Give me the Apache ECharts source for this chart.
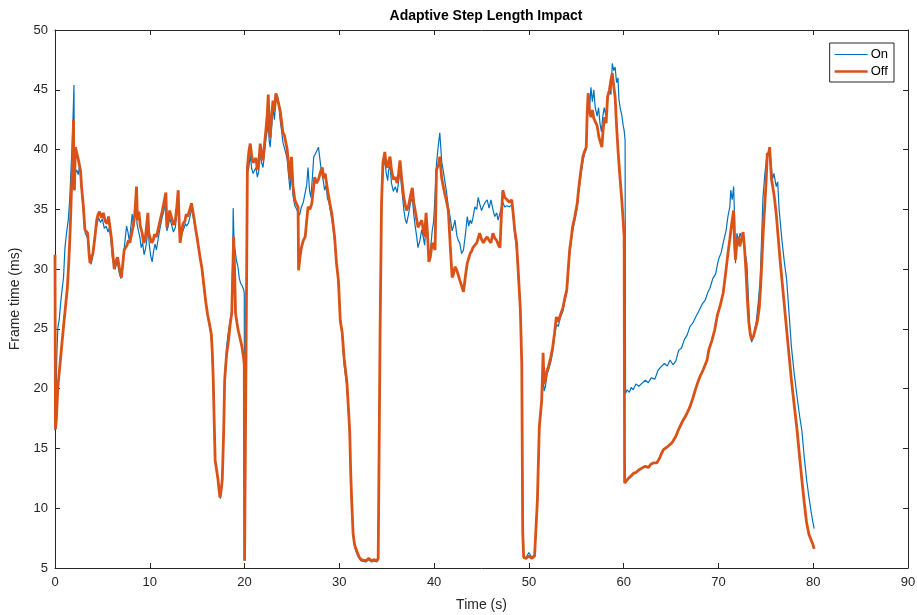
<!DOCTYPE html>
<html>
<head>
<meta charset="utf-8">
<script src="https://cdn.jsdelivr.net/npm/echarts@6/dist/echarts.min.js"></script>
<style>
  html, body { margin: 0; padding: 0; background: #fff; }
  #chart { width: 917px; height: 615px; }
</style>
</head>
<body>
<div id="chart"></div>
<script>
const xTicks = [0, 10, 20, 30, 40, 50, 60, 70, 80, 90]
const yTicks = [5, 10, 15, 20, 25, 30, 35, 40, 45, 50]
const seriesNames = ['On', 'Off']

// [time (s), frame time (ms)]
const onData = [
  [0,16.5],[0.1,19.0],[0.2,23.0],[0.3,25.1],[0.45,25.8],[0.6,27.2],[0.75,28.3],[0.9,29.3],[1.05,31.8],[1.2,32.9],[1.4,34.1],[1.55,35.8],[1.7,38.5],[1.8,40.2],[1.9,42.6],[2.0,45.4],[2.05,36.6],[2.15,38.0],[2.3,38.3],[2.45,37.9],[2.6,38.7],[2.75,37.2],[2.9,35.6],[3.05,34.2],[3.2,33.0],[3.35,33.1],[3.5,32.5],[3.65,30.9],[3.8,30.4],[3.95,30.9],
  [4.1,31.8],[4.3,33.2],[4.45,33.8],[4.6,34.3],[4.8,33.9],[5.0,34.2],[5.2,33.4],[5.4,33.6],[5.6,33.1],[5.75,33.5],[5.9,32.4],[6.05,31.0],[6.2,30.4],[6.35,30.0],[6.55,30.7],[6.75,29.8],[6.95,29.2],[7.1,30.2],[7.25,31.3],[7.4,32.5],[7.55,33.6],[7.7,33.1],[7.85,32.3],[8.0,33.5],[8.15,34.6],[8.3,33.5],[8.45,35.0],[8.55,36.7],[8.65,33.8],[8.8,33.2],[8.95,32.7],
  [9.1,31.8],[9.25,32.2],[9.4,31.2],[9.55,31.7],[9.7,32.5],[9.8,33.8],[9.95,32.0],[10.1,31.1],[10.25,30.6],[10.4,31.5],[10.55,32.1],[10.7,31.6],[10.9,32.6],[11.1,33.5],[11.3,34.3],[11.5,34.9],[11.65,35.6],[11.8,33.2],[11.95,33.6],[12.1,34.3],[12.3,34.4],[12.5,33.1],[12.7,33.5],[12.85,34.6],[13.0,35.3],[13.15,33.5],[13.3,32.7],[13.45,33.1],[13.6,33.4],[13.75,33.8],[13.9,33.6],
  [14.1,33.9],[14.3,34.6],[14.45,35.1],[14.6,34.3],[14.75,33.6],[14.9,32.9],[15.05,32.3],[15.2,31.5],[15.4,30.6],[15.6,29.2],[15.8,27.8],[16.0,26.6],[16.2,25.7],[16.4,24.8],[16.55,23.7],[16.65,21.5],[16.75,18.5],[16.85,15.0],[16.95,13.8],[17.1,13.0],[17.25,12.0],[17.35,11.2],[17.45,10.8],[17.55,11.6],[17.7,13.5],[17.8,17.0],[17.9,21.0],
  [18.1,23.5],[18.3,24.8],[18.5,25.8],[18.65,26.6],[18.75,31.0],[18.8,35.1],[18.9,32.0],[19.0,31.6],[19.15,30.7],[19.3,30.2],[19.45,29.2],[19.6,28.8],[19.75,28.6],[19.9,28.3],[19.97,28.0],[20.0,5.6],[20.05,5.5],[20.15,22],[20.3,38.0],[20.45,38.5],[20.6,39.6],[20.75,38.4],[20.9,38.0],[21.05,37.9],[21.2,38.5],[21.35,37.7],[21.5,38.2],[21.65,39.8],[21.8,38.9],[21.95,38.5],
  [22.1,39.7],[22.25,40.9],[22.4,41.6],[22.5,42.4],[22.6,40.7],[22.7,40.2],[22.85,41.8],[23.0,43.5],[23.15,42.5],[23.3,44.1],[23.45,44.6],[23.6,43.9],[23.75,42.5],[23.9,41.6],[24.05,40.6],[24.2,40.5],[24.35,39.7],[24.5,39.2],[24.65,37.8],[24.8,36.6],[24.95,38.5],[25.1,36.2],[25.3,35.3],[25.5,35.0],[25.65,34.7],[25.8,34.5],[26.0,35.2],[26.2,35.6],[26.4,36.4],[26.55,37.0],[26.7,38.5],[26.85,36.6],
  [27.0,36.0],[27.15,37.6],[27.3,39.4],[27.45,39.6],[27.6,39.7],[27.8,40.2],[27.95,39.2],[28.1,38.2],[28.3,37.4],[28.45,36.6],[28.6,37.0],[28.75,35.9],[28.9,35.6],[29.05,34.9],[29.2,34.2],[29.35,33.4],[29.5,32.4],[29.7,30.4],[29.9,28.9],[30.1,25.9],[30.3,24.5],[30.5,22.0],[30.8,20.2],[31.0,17.5],[31.1,16.0],[31.2,12.8],[31.3,10.5],[31.45,7.8],[31.6,6.9],[31.75,6.4],[31.9,6.1],
  [32.1,5.8],[32.3,5.6],[32.5,5.6],[32.8,5.5],[33.1,5.7],[33.4,5.5],[33.7,5.6],[33.95,5.5],[34.1,5.7],[34.2,15],[34.3,24.7],[34.45,35.0],[34.6,38.3],[34.8,39.2],[34.95,38.0],[35.1,37.4],[35.2,38.3],[35.35,38.6],[35.5,37.2],[35.7,36.5],[35.9,36.9],[36.1,36.4],[36.25,37.3],[36.4,38.3],[36.6,36.6],[36.8,35.0],[36.95,34.2],[37.1,33.8],[37.3,34.6],[37.5,35.5],[37.7,36.0],[37.85,34.6],
  [38.0,33.6],[38.15,32.8],[38.3,31.8],[38.5,32.4],[38.7,33.3],[38.85,32.7],[39.0,32.0],[39.15,33.8],[39.3,32.5],[39.45,31.0],[39.6,31.5],[39.8,33.2],[39.95,34.0],[40.1,36.2],[40.25,38.8],[40.45,40.4],[40.6,41.4],[40.8,39.0],[40.95,38.3],[41.1,38.4],[41.3,36.5],[41.5,35.2],[41.7,34.3],[41.9,33.2],[42.05,33.6],[42.2,34.1],[42.4,32.8],[42.55,32.4],[42.7,32.2],[42.9,31.3],
  [43.1,31.6],[43.3,32.9],[43.5,34.4],[43.65,33.6],[43.8,34.1],[43.95,33.8],[44.1,34.3],[44.3,35.2],[44.5,35.0],[44.65,36.0],[44.8,35.5],[45.0,34.9],[45.2,35.3],[45.4,35.6],[45.6,35.8],[45.8,35.1],[46.0,35.8],[46.2,35.0],[46.4,34.4],[46.6,34.7],[46.75,34.1],[46.95,34.7],[47.1,34.6],[47.25,35.6],[47.45,35.2],[47.7,35.3],[47.95,35.2],[48.2,35.4],[48.35,34.4],[48.5,33.0],[48.7,31.6],[48.9,29.2],
  [49.1,26.4],[49.25,22],[49.35,8],[49.45,5.8],[49.7,5.9],[50.0,6.3],[50.3,5.9],[50.6,6.1],[50.8,6.0],[50.9,10.5],[51.1,16.6],[51.35,18.8],[51.45,20.4],[51.5,21.2],[51.6,19.8],[51.75,20.2],[51.9,21.2],[52.05,21.5],[52.3,22.2],[52.5,23.0],[52.7,24.3],[52.9,25.4],[53.1,25.2],[53.3,25.9],[53.6,26.5],[53.8,27.4],[54.0,28.0],[54.15,29.6],[54.3,31.2],[54.5,32.5],[54.6,33.1],[54.85,34.1],
  [55.1,35.1],[55.25,36.4],[55.4,37.3],[55.55,38.2],[55.7,39.0],[55.85,39.6],[56.05,40.0],[56.15,42.4],[56.3,44.7],[56.4,43.4],[56.55,45.2],[56.7,44.0],[56.85,45.0],[57.0,43.5],[57.2,42.8],[57.35,43.5],[57.5,42.2],[57.65,41.5],[57.8,42.8],[57.95,43.5],[58.1,42.9],[58.3,44.0],[58.5,45.0],[58.65,44.6],[58.8,47.2],[58.95,46.6],[59.1,46.9],[59.25,45.6],[59.4,46.0],[59.5,44.2],[59.65,43.4],[59.8,42.9],[59.95,42.0],[60.05,41.6],[60.15,40.8],
  [60.2,19.6],[60.35,19.9],[60.6,19.7],[60.8,20.1],[61.0,19.9],[61.3,20.4],[61.6,20.2],[62.0,20.5],[62.3,20.7],[62.6,20.5],[62.9,20.9],[63.3,20.8],[63.6,21.5],[63.9,21.8],[64.3,22.1],[64.6,21.9],[64.9,22.4],[65.2,22.0],[65.5,22.3],[65.8,23.2],[66.1,23.4],[66.4,24.1],[66.7,24.5],[67.0,25.2],[67.3,25.5],[67.6,26.0],[68.0,26.6],[68.3,27.1],[68.6,27.4],[68.9,28.1],[69.1,28.4],[69.4,29.2],[69.7,29.6],
  [70.0,30.8],[70.3,31.4],[70.5,32.2],[70.8,33.2],[71.0,34.4],[71.2,35.2],[71.3,36.6],[71.45,35.8],[71.6,36.9],[71.7,34.4],[71.8,30.5],[71.95,33.0],[72.1,32.4],[72.3,33.0],[72.45,32.6],[72.6,32.4],[72.8,31.4],[73.0,30.5],[73.15,27.8],[73.3,24.9],[73.5,23.9],[73.7,24.3],[74.0,25.7],[74.2,27.2],[74.4,29.1],[74.55,32.5],[74.7,36.0],[74.9,38.0],[75.1,39.4],[75.4,40.2],
  [75.55,38.8],[75.7,37.5],[75.85,38.0],[76.1,36.9],[76.25,37.3],[76.4,35.0],[76.7,32.4],[76.95,30.6],[77.2,29.1],[77.45,26.3],[77.7,23.5],[78.0,21.2],[78.3,19.3],[78.55,17.8],[78.8,16.5],[79.05,14.3],[79.3,12.4],[79.55,10.9],[79.8,9.6],[79.95,8.9],[80.1,8.3]
]

const offData = [
  [0,31.2],[0.05,16.6],[0.15,17.5],[0.3,20.1],[0.5,21.8],[0.7,23.5],[0.9,25.2],[1.1,26.8],[1.3,28.4],[1.45,30.5],[1.6,33.2],[1.75,36.9],[1.85,38.5],[1.95,42.5],[2.0,37.2],[2.05,36.6],[2.15,40.2],[2.3,39.7],[2.45,39.2],[2.6,39.1],[2.7,38.2],[2.8,36.9],[3.0,35.2],[3.15,33.3],[3.3,33.4],[3.45,33.0],[3.6,31.2],[3.7,30.5],[3.85,31.0],
  [4.0,31.3],[4.2,32.6],[4.4,34.1],[4.55,34.6],[4.7,34.8],[4.9,34.3],[5.1,34.7],[5.3,34.0],[5.5,33.8],[5.65,34.4],[5.8,33.5],[5.95,32.6],[6.1,31.3],[6.25,30.0],[6.4,30.6],[6.6,31.0],[6.8,30.1],[7.0,29.3],[7.15,30.4],[7.3,31.6],[7.45,31.8],[7.6,32.0],[7.75,32.4],[7.9,32.2],[8.1,33.0],[8.25,33.6],[8.4,34.4],[8.5,35.6],[8.6,36.9],[8.7,34.1],[8.85,34.8],
  [9.0,33.6],[9.2,33.0],[9.35,32.2],[9.5,32.4],[9.65,33.5],[9.8,34.7],[9.9,33.0],[10.05,32.6],[10.2,32.2],[10.35,32.4],[10.5,32.9],[10.7,32.7],[10.9,33.4],[11.1,34.1],[11.3,34.8],[11.5,35.6],[11.7,36.4],[11.8,33.5],[11.95,34.2],[12.1,34.9],[12.3,34.9],[12.5,33.7],[12.7,34.1],[12.85,35.2],[13.0,36.6],[13.1,34.0],[13.2,32.2],[13.35,33.0],[13.5,33.8],[13.7,34.0],[13.85,34.6],
  [14.0,34.4],[14.2,34.9],[14.4,35.5],[14.55,34.8],[14.7,34.1],[14.85,33.3],[15.0,32.6],[15.15,31.8],[15.3,31.0],[15.5,30.1],[15.7,28.7],[15.9,27.3],[16.1,26.2],[16.3,25.4],[16.5,24.5],[16.6,23.0],[16.7,20.7],[16.8,17.2],[16.9,14.0],[17.05,13.2],[17.2,12.4],[17.3,11.6],[17.4,10.9],[17.5,11.3],[17.65,12.4],[17.8,16.5],[17.9,20.7],
  [18.1,22.8],[18.3,24.0],[18.5,25.5],[18.65,26.3],[18.75,29.5],[18.85,32.7],[18.95,30.0],[19.05,26.3],[19.2,25.5],[19.35,24.8],[19.5,24.3],[19.7,23.6],[19.9,22.6],[19.97,22.0],[20.0,5.6],[20.05,5.5],[20.15,22],[20.3,38.5],[20.45,39.8],[20.6,40.5],[20.75,39.5],[20.9,38.9],[21.05,38.9],[21.2,39.3],[21.35,38.3],[21.5,38.8],[21.65,40.5],[21.8,39.6],[21.95,39.1],
  [22.1,40.4],[22.25,41.6],[22.4,43.0],[22.5,44.6],[22.6,42.0],[22.7,41.0],[22.85,42.8],[23.0,44.1],[23.15,43.2],[23.3,44.7],[23.45,44.3],[23.6,43.8],[23.75,43.3],[23.9,42.4],[24.05,41.4],[24.2,41.2],[24.35,40.6],[24.5,40.0],[24.65,38.7],[24.8,37.5],[24.95,39.4],[25.1,37.0],[25.3,35.8],[25.5,35.4],[25.65,35.2],[25.7,29.9],[25.85,31.0],
  [26.0,31.8],[26.2,32.4],[26.4,32.7],[26.55,34.0],[26.7,35.2],[26.9,35.0],[27.1,35.5],[27.25,36.6],[27.4,37.7],[27.6,37.2],[27.8,37.5],[28.0,38.1],[28.2,38.5],[28.35,37.6],[28.5,38.0],[28.65,37.2],[28.8,36.4],[29.0,35.5],[29.2,34.7],[29.35,33.7],[29.5,32.7],[29.7,30.5],[29.9,29.1],[30.1,25.7],[30.3,24.7],[30.5,22.6],[30.8,20.5],[31.0,17.8],
  [31.1,16.3],[31.2,13.0],[31.3,10.7],[31.45,7.9],[31.6,7.0],[31.75,6.6],[31.9,6.3],[32.1,5.9],[32.3,5.7],[32.5,5.7],[32.8,5.6],[33.1,5.8],[33.4,5.6],[33.7,5.7],[33.95,5.6],[34.1,5.8],[34.2,15],[34.3,24.7],[34.45,35.5],[34.6,38.9],[34.8,39.8],[34.95,38.7],[35.1,38.5],[35.2,39.0],[35.35,39.4],[35.5,38.3],[35.7,37.5],[35.9,37.7],
  [36.1,37.2],[36.25,38.0],[36.4,39.1],[36.6,37.4],[36.8,36.0],[36.95,35.4],[37.1,34.9],[37.3,35.3],[37.5,36.1],[37.7,36.8],[37.85,35.6],[38.0,34.9],[38.15,34.2],[38.3,33.5],[38.5,33.8],[38.7,34.1],[38.85,33.3],[39.0,32.7],[39.15,34.7],[39.3,33.0],[39.45,30.6],[39.6,31.0],[39.8,32.2],[39.95,31.9],[40.1,31.6],
  [40.25,38.3],[40.45,38.7],[40.6,39.4],[40.8,37.6],[40.95,37.0],[41.1,36.4],[41.3,35.7],[41.5,34.9],[41.7,32.0],[41.9,29.3],[42.05,29.6],[42.2,30.2],[42.4,29.9],[42.55,29.5],[42.7,29.1],[42.9,28.6],[43.1,28.1],[43.3,29.4],[43.5,30.5],[43.65,30.9],[43.8,31.3],[43.95,31.5],[44.1,31.8],[44.3,32.0],[44.5,32.2],[44.65,32.6],[44.8,33.0],
  [45.0,32.5],[45.2,32.2],[45.4,32.5],[45.6,32.7],[45.8,32.4],[46.0,32.2],[46.2,33.0],[46.4,32.6],[46.6,32.4],[46.8,32.0],[46.95,31.8],[47.1,34.5],[47.25,36.6],[47.45,36.0],[47.7,35.8],[47.95,35.6],[48.2,35.8],[48.35,34.6],[48.5,33.3],[48.7,32.2],[48.9,29.5],[49.1,26.6],[49.25,22],[49.35,8],[49.45,5.9],[49.7,5.8],
  [50.0,6.0],[50.3,5.8],[50.6,6.0],[50.8,6.1],[50.9,10.7],[51.1,16.8],[51.35,19.0],[51.45,21.5],[51.5,23.0],[51.6,20.4],[51.75,20.7],[51.9,21.5],[52.05,21.8],[52.3,22.6],[52.5,23.4],[52.7,24.6],[52.9,26.0],[53.1,25.6],[53.3,26.1],[53.6,26.8],[53.8,27.6],[54.0,28.3],[54.15,30.0],[54.3,31.6],[54.5,32.8],[54.6,33.5],[54.85,34.4],
  [55.1,35.5],[55.25,36.7],[55.4,37.7],[55.55,38.6],[55.7,39.4],[55.85,39.8],[56.05,40.2],[56.15,43.0],[56.25,44.7],[56.4,43.2],[56.55,42.7],[56.7,43.3],[56.85,42.6],[57.0,42.5],[57.2,42.0],[57.4,41.0],[57.55,40.6],[57.7,40.2],[57.85,41.8],[58.0,42.7],[58.15,42.2],[58.3,44.4],[58.5,45.0],[58.65,45.8],[58.8,46.4],[58.95,45.3],
  [59.1,44.4],[59.25,42.0],[59.4,40.0],[59.6,37.8],[59.8,35.8],[59.95,34.0],[60.05,32.7],[60.1,12.1],[60.3,12.2],[60.5,12.5],[60.8,12.7],[61.0,12.9],[61.3,13.0],[61.6,13.2],[62.0,13.4],[62.3,13.5],[62.6,13.4],[62.9,13.7],[63.2,13.8],[63.5,13.8],[63.8,14.2],[64.0,14.6],[64.2,14.9],[64.4,15.0],[64.7,15.2],[65.0,15.4],
  [65.2,15.6],[65.5,16.0],[65.8,16.6],[66.1,17.1],[66.3,17.4],[66.6,17.8],[67.0,18.5],[67.3,19.2],[67.6,20.0],[67.9,20.7],[68.1,21.1],[68.4,21.6],[68.8,22.4],[69.0,23.3],[69.3,24.0],[69.6,24.9],[69.9,26.2],[70.2,27.0],[70.5,28.0],[70.75,29.6],[71.0,31.3],[71.2,32.5],[71.4,33.8],[71.6,34.9],[71.7,32.0],[71.8,30.8],[71.95,32.3],
  [72.1,32.7],[72.25,31.9],[72.4,31.8],[72.6,33.1],[72.75,31.8],[72.9,29.9],[73.05,27.5],[73.2,25.6],[73.35,24.6],[73.5,24.1],[73.7,24.4],[73.9,25.0],[74.1,25.6],[74.3,26.7],[74.45,28.5],[74.6,31.0],[74.75,33.5],[74.9,35.5],[75.05,37.6],[75.15,39.7],[75.3,39.5],[75.4,40.2],[75.5,38.8],[75.6,37.5],[75.75,36.8],[75.9,36.0],
  [76.1,34.6],[76.3,32.7],[76.5,30.8],[76.7,29.1],[76.95,27.0],[77.2,24.9],[77.45,22.8],[77.7,20.7],[78.0,18.6],[78.3,16.5],[78.55,14.4],[78.8,12.4],[79.05,10.5],[79.3,8.8],[79.55,7.8],[79.8,7.3],[79.95,7.0],[80.1,6.6]
]

const chart = echarts.init(document.getElementById('chart'), null, { renderer: 'canvas' })

const font = 'Liberation Sans, Arial, Helvetica, sans-serif'
const axisColor = '#262626'
const onColor = '#0072BD'
const offColor = '#D95319'

const baseX = {
  type: 'value',
  min: xTicks[0],
  max: xTicks[xTicks.length - 1],
  interval: 10,
  splitLine: { show: false },
  axisLine: { show: true, onZero: false, lineStyle: { color: axisColor, width: 1 } },
  axisTick: { show: true, inside: true, length: 5, lineStyle: { color: axisColor } }
}
const baseY = {
  type: 'value',
  min: yTicks[0],
  max: yTicks[yTicks.length - 1],
  interval: 5,
  splitLine: { show: false },
  axisLine: { show: true, onZero: false, lineStyle: { color: axisColor, width: 1 } },
  axisTick: { show: true, inside: true, length: 5, lineStyle: { color: axisColor } }
}

const option = {
  backgroundColor: '#ffffff',
  animation: false,
  title: {
    text: 'Adaptive Step Length Impact',
    left: 481,
    top: 4,
    textAlign: 'center',
    textStyle: { fontFamily: font, fontSize: 14, fontWeight: 'bold', color: '#000' }
  },
  grid: { left: 55, right: 9, top: 30, bottom: 47, containLabel: false, outerBoundsMode: 'none' },
  legend: {
    data: [
      { name: seriesNames[0], icon: 'path://M0,0H40V1.3H0Z', itemStyle: { color: onColor } },
      { name: seriesNames[1], icon: 'path://M0,0H40V3.2H0Z', itemStyle: { color: offColor } }
    ],
    orient: 'vertical',
    right: 23,
    top: 43,
    padding: [5, 6, 4, 5],
    itemGap: 4,
    itemWidth: 33,
    itemHeight: 14,
    backgroundColor: '#fff',
    borderColor: axisColor,
    borderWidth: 1,
    borderRadius: 0,
    textStyle: { fontFamily: font, fontSize: 13, color: '#000', padding: [0, 0, 0, -2] }
  },
  xAxis: [
    {
      ...baseX,
      position: 'bottom',
      name: 'Time (s)',
      nameLocation: 'middle',
      nameGap: 30,
      nameTextStyle: { fontFamily: font, fontSize: 14, color: axisColor },
      axisLabel: { fontFamily: font, fontSize: 13, color: axisColor, margin: 8 }
    },
    { ...baseX, position: 'top', axisLabel: { show: false } }
  ],
  yAxis: [
    {
      ...baseY,
      position: 'left',
      name: 'Frame time (ms)',
      nameLocation: 'middle',
      nameGap: 26,
      nameRotate: 90,
      nameTextStyle: { fontFamily: font, fontSize: 14, color: axisColor },
      axisLabel: { fontFamily: font, fontSize: 13, color: axisColor, margin: 7 }
    },
    { ...baseY, position: 'right', axisLabel: { show: false } }
  ],
  series: [
    {
      name: seriesNames[0],
      type: 'line',
      data: onData,
      symbol: 'none',
      lineStyle: { color: onColor, width: 1.2 },
      itemStyle: { color: onColor },
      z: 2
    },
    {
      name: seriesNames[1],
      type: 'line',
      data: offData,
      symbol: 'none',
      lineStyle: { color: offColor, width: 2.8 },
      itemStyle: { color: offColor },
      z: 3
    }
  ]
}

chart.setOption(option)
</script>
</body>
</html>
